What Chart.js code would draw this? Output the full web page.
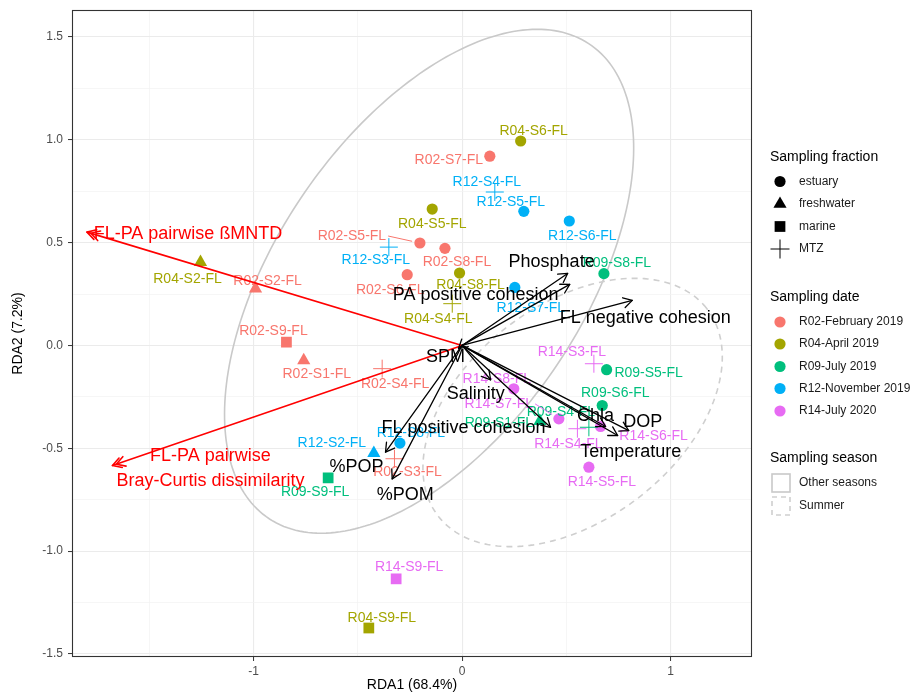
<!DOCTYPE html>
<html>
<head>
<meta charset="utf-8">
<script src="https://cdn.jsdelivr.net/npm/chart.js@4/dist/chart.umd.min.js"></script>
<style>
  html, body { margin: 0; padding: 0; background: #ffffff; }
  #wrap { width: 912px; height: 695px; }
</style>
</head>
<body>
<div id="wrap"><canvas id="c" width="912" height="695"></canvas></div>
<script>
// ---- Site scores (RDA1 / RDA2) ----
const sampleNames = ['R02-S1-FL','R02-S2-FL','R02-S3-FL','R02-S4-FL','R02-S5-FL','R02-S6-FL','R02-S7-FL','R02-S8-FL','R02-S9-FL',
  'R04-S2-FL','R04-S4-FL','R04-S5-FL','R04-S6-FL','R04-S8-FL','R04-S9-FL',
  'R09-S1-FL','R09-S4-FL','R09-S5-FL','R09-S6-FL','R09-S8-FL','R09-S9-FL',
  'R12-S2-FL','R12-S3-FL','R12-S4-FL','R12-S5-FL','R12-S6-FL','R12-S7-FL','R12-S8-FL',
  'R14-S3-FL','R14-S4-FL','R14-S5-FL','R14-S6-FL','R14-S7-FL','R14-S8-FL','R14-S9-FL'];
const sampleRDA1 = [-0.759,-0.990,-0.324,-0.383,-0.202,-0.263,0.133,-0.082,-0.842,
  -1.254,-0.047,-0.143,0.281,-0.012,-0.447,
  0.373,0.608,0.693,0.672,0.680,-0.642,
  -0.423,-0.351,0.157,0.296,0.514,0.253,-0.298,
  0.632,0.553,0.608,0.664,0.464,0.248,-0.316];
const sampleRDA2 = [-0.073,0.276,-0.551,-0.113,0.498,0.344,0.920,0.472,0.016,
  0.405,0.203,0.663,0.994,0.352,-1.374,
  -0.368,-0.398,-0.118,-0.292,0.349,-0.644,
  -0.524,0.478,0.746,0.652,0.605,0.282,-0.475,
  -0.089,-0.405,-0.592,-0.394,-0.357,-0.211,-1.135];
const sampleFraction = ['freshwater','freshwater','MTZ','MTZ','estuary','estuary','estuary','estuary','marine',
  'freshwater','MTZ','estuary','estuary','estuary','marine',
  'freshwater','MTZ','estuary','estuary','estuary','marine',
  'freshwater','MTZ','MTZ','estuary','estuary','estuary','estuary',
  'MTZ','MTZ','estuary','estuary','estuary','estuary','marine'];

// ---- Categories ----
const campaigns = ['R02','R04','R09','R12','R14'];
const campaignLabels = ['R02-February 2019','R04-April 2019','R09-July 2019','R12-November 2019','R14-July 2020'];
const fractionLevels = ['estuary','freshwater','marine','MTZ'];
const seasonLevels = ['Other seasons','Summer'];

// ---- Fitted environmental vectors (black) ----
const envNames = ['Phosphate','PA positive cohesion','FL negative cohesion','SPM','Salinity','FL positive cohesion','Chla','DOP','Temperature','%POP','%POM'];
const envRDA1 = [0.506,0.516,0.816,-0.017,0.137,0.424,0.688,0.799,0.746,-0.367,-0.335];
const envRDA2 = [0.350,0.297,0.219,-0.015,-0.167,-0.398,-0.394,-0.414,-0.438,-0.519,-0.649];

// ---- FL-PA turnover vectors (red) ----
const bioNames = [['FL-PA pairwise \u00dfMNTD'], ['FL-PA pairwise','Bray-Curtis dissimilarity']];
const bioRDA1 = [-1.798,-1.676];
const bioRDA2 = [0.551,-0.584];

// ---- Confidence ellipses per season: centre x, centre y, semi-axis a, semi-axis b, angle (deg) ----
const ellipseOther  = [-0.158, 0.312, 1.386, 0.736, 56.5];
const ellipseSummer = [0.530, -0.326, 0.818, 0.521, 38.5];

// ---- Tick labels ----
const xTickLabels = ['-1','0','1'];
const yTickLabels = ['-1.5','-1.0','-0.5','0.0','0.5','1.0','1.5'];

// ---- Layout / styling (pixels) ----
const FONT = "'Liberation Sans', Arial, Helvetica, sans-serif";
const campaignColors = ['#F8766D','#A3A500','#00BF7D','#00B0F6','#E76BF3'];
const fractionStyle = { estuary: 'circle', freshwater: 'triangle', marine: 'rect', MTZ: 'cross' };
const fractionRadius = { estuary: 5.6, freshwater: 7.6, marine: 7.6, MTZ: 9 };
const sampleLabelOffset = [[13,14],[12,-8],[13,13],[13,15],[-68,-7],[-17,15],[-41,4],[12,14],[-13,-11],
  [-13,17],[-14,15],[0,15],[13,-10],[11,12],[13,-10],
  [-41,2],[-28,-15],[42,3],[13,-12],[13,-11],[-13,14],
  [-42,-10],[-13,13],[-8,-10],[-13,-9],[13,15],[16,21],[11,-10],
  [-22,-12],[-9,15],[13,15],[53,10],[-60,-15],[-17,-10],[13,-12]];
const labelConnectors = ['R02-S5-FL','R14-S7-FL'];
const envLabelOffset = [[-16,-11],[-94,11],[13,18],[-13,9],[-15,14],[-87,1],[-10,-10],[14,-9],[13,17],[-29,15],[13,16]];
const bioLabelOffset = [[101,2],[98,-10]];

const PANEL = { left: 72, right: 752, top: 6, bottom: 657 };

function campaignOf(name) { return name.slice(0, 3); }

const datasets = campaigns.map((c, ci) => {
  const idx = sampleNames.map((n, i) => i).filter(i => campaignOf(sampleNames[i]) === c);
  return {
    label: campaignLabels[ci],
    data: idx.map(i => ({ x: sampleRDA1[i], y: sampleRDA2[i] })),
    pointStyle: idx.map(i => fractionStyle[sampleFraction[i]]),
    pointRadius: idx.map(i => fractionRadius[sampleFraction[i]]),
    pointBorderWidth: idx.map(i => sampleFraction[i] === 'MTZ' ? 1 : 0),
    pointBackgroundColor: campaignColors[ci],
    pointBorderColor: campaignColors[ci],
    showLine: false
  };
});

function near(v, step) { return Math.abs(v / step - Math.round(v / step)) < 1e-6; }

function drawShape(ctx, style, x, y, r, color) {
  ctx.save();
  ctx.fillStyle = color; ctx.strokeStyle = color;
  ctx.beginPath();
  if (style === 'circle') {
    ctx.arc(x, y, r, 0, Math.PI * 2); ctx.fill();
  } else if (style === 'triangle') {
    ctx.moveTo(x, y - r);
    ctx.lineTo(x + r * Math.sin(Math.PI * 2 / 3), y - r * Math.cos(Math.PI * 2 / 3));
    ctx.lineTo(x - r * Math.sin(Math.PI * 2 / 3), y - r * Math.cos(Math.PI * 2 / 3));
    ctx.closePath(); ctx.fill();
  } else if (style === 'rect') {
    const s = r * Math.SQRT1_2; ctx.rect(x - s, y - s, 2 * s, 2 * s); ctx.fill();
  } else {
    ctx.lineWidth = 1;
    ctx.moveTo(x - r, y); ctx.lineTo(x + r, y);
    ctx.moveTo(x, y - r); ctx.lineTo(x, y + r); ctx.stroke();
  }
  ctx.restore();
}

function drawArrow(ctx, x0, y0, x1, y1, color, width, doubleHead) {
  ctx.save();
  ctx.strokeStyle = color; ctx.lineWidth = width; ctx.lineCap = 'round'; ctx.lineJoin = 'round';
  ctx.beginPath(); ctx.moveTo(x0, y0); ctx.lineTo(x1, y1); ctx.stroke();
  const a = Math.atan2(y1 - y0, x1 - x0), len = 10, spread = Math.PI / 6;
  const heads = doubleHead ? [0, 4] : [0];
  heads.forEach(off => {
    const tx = x1 - off * Math.cos(a), ty = y1 - off * Math.sin(a);
    ctx.beginPath();
    ctx.moveTo(tx - len * Math.cos(a - spread), ty - len * Math.sin(a - spread));
    ctx.lineTo(tx, ty);
    ctx.lineTo(tx - len * Math.cos(a + spread), ty - len * Math.sin(a + spread));
    ctx.stroke();
  });
  ctx.restore();
}

function traceEllipse(ctx, xs, ys, e) {
  const [cx, cy, A, B, deg] = e;
  const th = deg * Math.PI / 180;
  ctx.beginPath();
  for (let k = 0; k <= 240; k++) {
    const t = k / 240 * Math.PI * 2;
    const dx = A * Math.cos(t) * Math.cos(th) - B * Math.sin(t) * Math.sin(th);
    const dy = A * Math.cos(t) * Math.sin(th) + B * Math.sin(t) * Math.cos(th);
    const px = xs.getPixelForValue(cx + dx), py = ys.getPixelForValue(cy + dy);
    if (k === 0) ctx.moveTo(px, py); else ctx.lineTo(px, py);
  }
  ctx.closePath();
}

const biplot = {
  id: 'biplot',
  beforeDatasetsDraw(chart) {
    const { ctx, chartArea: a, scales: { x: xs, y: ys } } = chart;
    ctx.save();
    ctx.beginPath(); ctx.rect(a.left, a.top, a.right - a.left, a.bottom - a.top); ctx.clip();
    ctx.lineWidth = 1.6;
    ctx.strokeStyle = '#C9C9C9'; ctx.setLineDash([]);
    traceEllipse(ctx, xs, ys, ellipseOther); ctx.stroke();
    ctx.strokeStyle = '#CFCFCF'; ctx.setLineDash([6, 5]);
    traceEllipse(ctx, xs, ys, ellipseSummer); ctx.stroke();
    ctx.restore();
  },
  afterDatasetsDraw(chart) {
    const { ctx, chartArea: a, scales: { x: xs, y: ys } } = chart;
    ctx.save();
    ctx.beginPath(); ctx.rect(a.left, a.top, a.right - a.left, a.bottom - a.top); ctx.clip();

    // sample labels
    ctx.font = '14px ' + FONT; ctx.textAlign = 'center'; ctx.textBaseline = 'middle';
    sampleNames.forEach((n, i) => {
      const col = campaignColors[campaigns.indexOf(campaignOf(n))];
      const px = xs.getPixelForValue(sampleRDA1[i]), py = ys.getPixelForValue(sampleRDA2[i]);
      const lx = px + sampleLabelOffset[i][0], ly = py + sampleLabelOffset[i][1];
      ctx.fillStyle = col;
      ctx.fillText(n, lx, ly);
      if (labelConnectors.includes(n)) {
        const w = ctx.measureText(n).width;
        const sx = lx + w / 2 + 2, sy = ly;
        const d = Math.hypot(px - sx, py - sy), pad = 8;
        ctx.strokeStyle = col; ctx.lineWidth = 1;
        ctx.beginPath(); ctx.moveTo(sx, sy);
        ctx.lineTo(sx + (px - sx) * (d - pad) / d, sy + (py - sy) * (d - pad) / d); ctx.stroke();
      }
    });

    const ox = xs.getPixelForValue(0), oy = ys.getPixelForValue(0);
    // red vectors
    bioNames.forEach((n, i) => {
      drawArrow(ctx, ox, oy, xs.getPixelForValue(bioRDA1[i]), ys.getPixelForValue(bioRDA2[i]), '#FF0000', 1.6, true);
    });
    // black vectors
    envNames.forEach((n, i) => {
      drawArrow(ctx, ox, oy, xs.getPixelForValue(envRDA1[i]), ys.getPixelForValue(envRDA2[i]), '#000000', 1.3, false);
    });

    ctx.font = '18px ' + FONT; ctx.textAlign = 'center'; ctx.textBaseline = 'middle';
    ctx.fillStyle = '#FF0000';
    bioNames.forEach((lines, i) => {
      const px = xs.getPixelForValue(bioRDA1[i]) + bioLabelOffset[i][0];
      const py = ys.getPixelForValue(bioRDA2[i]) + bioLabelOffset[i][1];
      lines.forEach((t, k) => ctx.fillText(t, px, py + k * 25));
    });
    ctx.fillStyle = '#000000';
    envNames.forEach((n, i) => {
      ctx.fillText(n, xs.getPixelForValue(envRDA1[i]) + envLabelOffset[i][0], ys.getPixelForValue(envRDA2[i]) + envLabelOffset[i][1]);
    });
    ctx.restore();
  },
  afterDraw(chart) {
    const { ctx, chartArea: a } = chart;
    ctx.save();
    // panel border
    ctx.strokeStyle = '#333333'; ctx.lineWidth = 1.1;
    ctx.strokeRect(a.left + 0.5, a.top + 0.5, a.right - a.left - 1, a.bottom - a.top - 1);

    // axis titles
    ctx.fillStyle = '#000000'; ctx.font = '14px ' + FONT;
    ctx.textAlign = 'center'; ctx.textBaseline = 'middle';
    ctx.fillText('RDA1 (68.4%)', (a.left + a.right) / 2, 685);
    ctx.save();
    ctx.translate(18, (a.top + a.bottom) / 2); ctx.rotate(-Math.PI / 2);
    ctx.fillText('RDA2 (7.2%)', 0, 0);
    ctx.restore();

    // legends
    const lx = 770, sx = 780, tx = 799;
    ctx.textAlign = 'left';
    ctx.font = '14px ' + FONT; ctx.fillStyle = '#000';
    ctx.fillText('Sampling fraction', lx, 157);
    const fracY = [181.5, 204, 226.5, 249];
    fractionLevels.forEach((f, i) => {
      drawShape(ctx, fractionStyle[f], sx, fracY[i], f === 'MTZ' ? 9.5 : fractionRadius[f], '#000000');
      ctx.font = '12px ' + FONT; ctx.fillStyle = '#1A1A1A';
      ctx.fillText(f, tx, fracY[i]);
    });

    ctx.font = '14px ' + FONT; ctx.fillStyle = '#000';
    ctx.fillText('Sampling date', lx, 297);
    const dateY = [322, 344, 366.5, 388.5, 411];
    campaignLabels.forEach((c, i) => {
      drawShape(ctx, 'circle', sx, dateY[i], 5.6, campaignColors[i]);
      ctx.font = '12px ' + FONT; ctx.fillStyle = '#1A1A1A';
      ctx.fillText(c, tx, dateY[i]);
    });

    ctx.font = '14px ' + FONT; ctx.fillStyle = '#000';
    ctx.fillText('Sampling season', lx, 458.5);
    const seasY = [483, 506];
    seasonLevels.forEach((s, i) => {
      ctx.save();
      ctx.strokeStyle = i === 0 ? '#C9C9C9' : '#CFCFCF'; ctx.lineWidth = 1.6;
      ctx.setLineDash(i === 0 ? [] : [5, 4]);
      ctx.strokeRect(772, seasY[i] - 9, 18, 18);
      ctx.restore();
      ctx.font = '12px ' + FONT; ctx.fillStyle = '#1A1A1A';
      ctx.fillText(s, tx, seasY[i]);
    });
    ctx.restore();
  }
};

new Chart(document.getElementById('c'), {
  type: 'scatter',
  data: { datasets },
  plugins: [biplot],
  options: {
    responsive: false,
    animation: false,
    devicePixelRatio: 1,
    layout: { padding: { left: 0, right: 912 - PANEL.right, top: PANEL.top, bottom: 0 } },
    plugins: { legend: { display: false }, tooltip: { enabled: false } },
    scales: {
      x: {
        type: 'linear', min: -1.87, max: 1.39,
        afterFit: s => { s.height = 695 - PANEL.bottom; s.paddingLeft = 0; s.paddingRight = 0; },
        border: { display: false },
        grid: {
          color: c => near(c.tick.value, 1) ? '#EBEBEB' : '#F2F2F2',
          lineWidth: c => near(c.tick.value, 1) ? 1.1 : 0.7,
          tickColor: c => near(c.tick.value, 1) ? '#333333' : 'rgba(0,0,0,0)',
          tickWidth: 1, tickLength: 4
        },
        ticks: {
          stepSize: 0.5, includeBounds: false, autoSkip: false, maxRotation: 0, padding: 3,
          color: '#4D4D4D', font: { family: FONT, size: 12 },
          callback: v => {
            const k = xTickLabels.indexOf(String(Math.round(v)));
            return near(v, 1) && k >= 0 ? xTickLabels[k] : '';
          }
        }
      },
      y: {
        type: 'linear', min: -1.515, max: 1.631,
        afterFit: s => { s.width = PANEL.left; s.paddingTop = 0; s.paddingBottom = 0; },
        border: { display: false },
        grid: {
          color: c => near(c.tick.value, 0.5) ? '#EBEBEB' : '#F2F2F2',
          lineWidth: c => near(c.tick.value, 0.5) ? 1.1 : 0.7,
          tickColor: c => near(c.tick.value, 0.5) ? '#333333' : 'rgba(0,0,0,0)',
          tickWidth: 1, tickLength: 4
        },
        ticks: {
          stepSize: 0.25, includeBounds: false, autoSkip: false, padding: 5,
          color: '#4D4D4D', font: { family: FONT, size: 12 },
          callback: v => {
            if (!near(v, 0.5)) return '';
            const k = yTickLabels.indexOf((Math.round(v * 2) / 2).toFixed(1));
            return k >= 0 ? yTickLabels[k] : '';
          }
        }
      }
    }
  }
});
</script>
</body>
</html>
